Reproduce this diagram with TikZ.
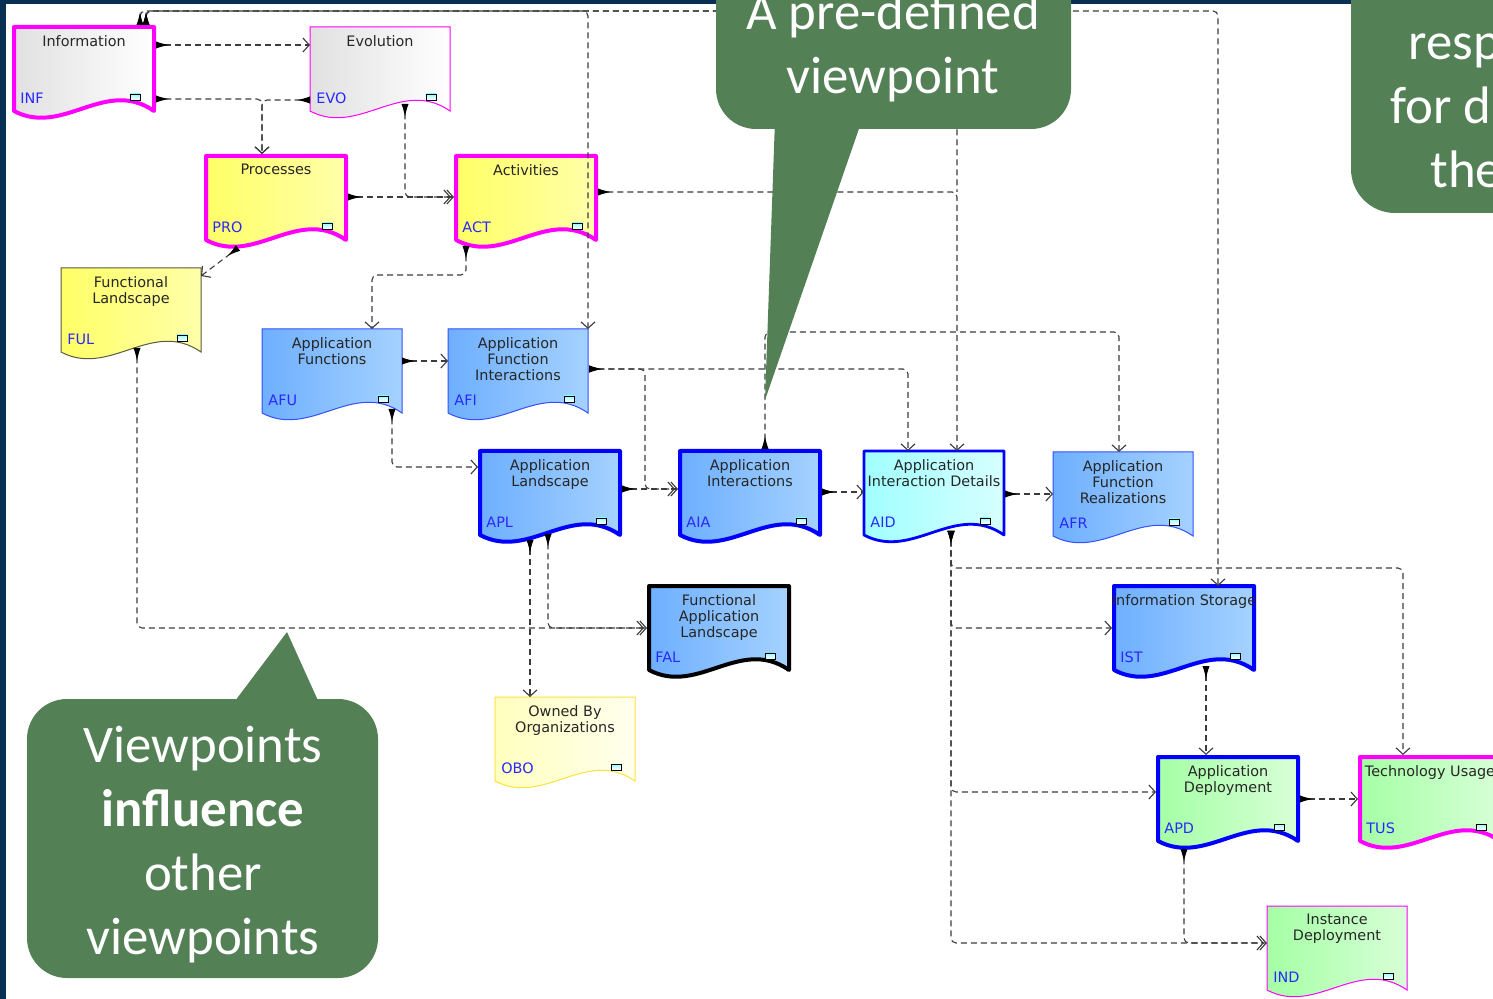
\documentclass[tikz,border=0pt]{standalone}
\usepackage{fontspec}
\setmainfont{DejaVu Sans}
\newfontfamily\calloutfont{Carlito}
\usetikzlibrary{positioning,calc,arrows.meta}

\definecolor{vpnavy}{RGB}{8,48,84}
\definecolor{vpgreen}{RGB}{84,128,86}
\definecolor{vpcodeblue}{RGB}{40,40,255}
\definecolor{vpmagenta}{RGB}{255,0,255}
\definecolor{vpblue}{RGB}{0,0,255}
\definecolor{vpthinblue}{RGB}{50,80,255}
\definecolor{vpolive}{RGB}{90,90,60}
\definecolor{vpgold}{RGB}{255,225,60}
\definecolor{vpline}{RGB}{60,60,60}

% one viewpoint: name, centre x, centre y, look, title, code
\newcommand{\vpdoc}[6]{%
  \node[vparea] (#1) at (#2,#3) {};
  \path[#4] (#1.north west) -- (#1.north east) -- (#1.south east)
    .. controls +(-49,-34) and +(49,26) .. (#1.south west) -- cycle;
  \node[vptitle] at ($(#1.north)+(0,8)$) {#5};
  \node[vpcode] at ($(#1.north west)+(6,71)$) {#6};
  \draw[vpicon] ($(#1.north east)+(-24,67)$) rectangle ($(#1.north east)+(-14,73)$);
}

\begin{document}
\begin{tikzpicture}[x=0.5pt,y=-0.5pt,
    vparea/.style={minimum width=70pt,minimum height=42pt,inner sep=0pt,outer sep=0pt},
    vptitle/.style={anchor=north,align=center,inner sep=0pt,text=black!85,font={\fontsize{7.2}{8}\selectfont}},
    vpcode/.style={anchor=west,inner sep=0pt,text=vpcodeblue,font={\fontsize{7.2}{8}\selectfont}},
    vpicon/.style={draw=black,line width=0.4pt,top color=cyan!40,bottom color=white},
    fillgray/.style={left color=black!12,right color=white},
    fillyellow/.style={left color={rgb,255:red,255;green,255;blue,102},right color={rgb,255:red,255;green,255;blue,170}},
    fillblue/.style={left color={rgb,255:red,110;green,175;blue,255},right color={rgb,255:red,165;green,210;blue,255}},
    fillcyan/.style={left color={rgb,255:red,160;green,255;blue,255},right color={rgb,255:red,215;green,255;blue,255}},
    fillgreen/.style={left color={rgb,255:red,165;green,255;blue,165},right color={rgb,255:red,215;green,255;blue,215}},
    fillpale/.style={left color={rgb,255:red,255;green,255;blue,190},right color={rgb,255:red,255;green,255;blue,238}},
    magthick/.style={draw=vpmagenta,line width=2pt,line join=round},
    magthin/.style={draw=vpmagenta,line width=0.5pt},
    bluethick/.style={draw=vpblue,line width=2pt,line join=round},
    bluemid/.style={draw=vpblue,line width=1.4pt,line join=round},
    bluethin/.style={draw=vpthinblue,line width=0.5pt},
    blackthick/.style={draw=black,line width=2pt,line join=round},
    olivethin/.style={draw=vpolive,line width=0.5pt},
    goldthin/.style={draw=vpgold,line width=0.5pt},
    vpdep/.style={draw=vpline,line width=0.55pt,dash pattern=on 3pt off 2pt,rounded corners=2.5pt,
      arrows={Latex[reversed,length=6.5pt,width=3.6pt,black]-Straight Barb[length=3.2pt,width=7pt,line width=0.55pt]}},
    vpjoin/.style={vpdep,arrows={Latex[reversed,length=6.5pt,width=3.6pt,black]-}},
    callout/.style={fill=vpgreen},
    callouttext/.style={align=center,text=white,inner sep=0pt,font={\calloutfont\fontsize{26.4}{32}\selectfont}}]

  \useasboundingbox (0,0) rectangle (1493,999);
  \clip (0,0) rectangle (1493,999);
  \fill[white] (0,0) rectangle (1493,999);
  \fill[vpnavy] (0,0) rectangle (6,999);
  \fill[vpnavy] (0,0) rectangle (1493,4);

  % viewpoints
  \vpdoc{inf}{84}{69}{fillgray,magthick}{Information}{INF}
  \vpdoc{evo}{380}{69}{fillgray,magthin}{Evolution}{EVO}
  \vpdoc{pro}{276}{198}{fillyellow,magthick}{Processes}{PRO}
  \vpdoc{act}{526}{198}{fillyellow,magthick}{Activities}{ACT}
  \vpdoc{ful}{131}{310}{fillyellow,olivethin}{Functional\\Landscape}{FUL}
  \vpdoc{afu}{332}{371}{fillblue,bluethin}{Application\\Functions}{AFU}
  \vpdoc{afi}{518}{371}{fillblue,bluethin}{Application\\Function\\Interactions}{AFI}
  \vpdoc{apl}{550}{493}{fillblue,bluethick}{Application\\Landscape}{APL}
  \vpdoc{aia}{750}{493}{fillblue,bluethick}{Application\\Interactions}{AIA}
  \vpdoc{aid}{934}{493}{fillcyan,bluemid}{Application\\Interaction Details}{AID}
  \vpdoc{afr}{1123}{494}{fillblue,bluethin}{Application\\Function\\Realizations}{AFR}
  \vpdoc{fal}{719}{628}{fillblue,blackthick}{Functional\\Application\\Landscape}{FAL}
  \vpdoc{obo}{565}{739}{fillpale,goldthin}{Owned By\\Organizations}{OBO}
  \vpdoc{ist}{1184}{628}{fillblue,bluethick}{Information Storage}{IST}
  \vpdoc{apd}{1228}{799}{fillgreen,bluethick}{Application\\Deployment}{APD}
  \vpdoc{tus}{1430}{799}{fillgreen,magthick}{Technology Usage}{TUS}
  \vpdoc{ind}{1337}{948}{fillgreen,magthin}{Instance\\Deployment}{IND}

  \coordinate (toplane) at (0,11);
  \coordinate (aidtop) at ($(aid.north west)+(93,0)$);
  \coordinate (isttop) at ($(ist.north west)+(104,0)$);
  \coordinate (aidout) at ($(aid.south west)+(87,-4)$);
  \coordinate (actout) at ($(act.north east)+(2,36)$);
  \coordinate (aidjoin) at (aidtop |- actout);

  % dependencies
  \draw[vpdep] ($(inf.north west)+(126,-2)$) |- (toplane -| afi.north east) -- (afi.north east);
  \draw[vpjoin] ($(inf.north west)+(132,-2)$) |- (toplane -| aidtop) -- (aidjoin);
  \draw[vpdep] ($(inf.north west)+(132,-2)$) |- (toplane -| isttop) -- (isttop);
  \draw[vpdep] ($(inf.north east)+(2,18)$) -- ($(evo.north west)+(0,18)$);
  \draw[vpdep] ($(inf.north east)+(2,72)$) -| ($(pro.north west)+(56,-2)$);
  \draw[vpdep] ($(evo.north west)+(0,73)$) -| ($(pro.north west)+(56,-2)$);
  \draw[vpdep] ($(pro.north east)+(2,41)$) -- ($(act.north west)+(-2,41)$);
  \draw[vpdep,shorten >=1.5pt] ($(evo.south west)+(95,-7)$) |- ($(act.north west)+(-2,41)$);
  \draw[vpdep] ($(pro.south west)+(32,8)$) -- ($(ful.north east)+(0,8)$);
  \draw[vpdep] ($(act.south west)+(10,6)$) |- ($(afu.north west)+(110,-54)$) -- ($(afu.north west)+(110,0)$);
  \draw[vpdep] (actout) -| (aidtop);
  \draw[vpdep] ($(afu.north east)+(0,32)$) -- ($(afi.north west)+(0,32)$);
  \draw[vpdep] ($(afu.south east)+(-10,-4)$) |- ($(apl.north west)+(-2,16)$);
  \draw[vpdep,shorten >=1.5pt] ($(afi.north east)+(1,40)$) -| ($(aia.north west)+(-35,38)$) -- ($(aia.north west)+(-2,38)$);
  \draw[vpdep] ($(afi.north east)+(1,40)$) -| ($(aid.north west)+(44,0)$);
  \draw[vpdep] ($(apl.north east)+(2,38)$) -- ($(aia.north west)+(-2,38)$);
  \draw[vpdep] ($(aia.north west)+(85,-2)$) |- ($(afr.north west)+(66,-120)$) -- ($(afr.north west)+(66,0)$);
  \draw[vpdep] ($(aia.north east)+(2,41)$) -- ($(aid.north west)+(0,41)$);
  \draw[vpdep] ($(aid.north east)+(1,43)$) -- ($(afr.north west)+(0,42)$);
  \draw[vpdep] (aidout) |- ($(tus.north west)+(43,-189)$) -- ($(tus.north west)+(43,-2)$);
  \draw[vpdep] (aidout) |- ($(ist.north west)+(-2,42)$);
  \draw[vpdep] (aidout) |- ($(apd.north west)+(-2,35)$);
  \draw[vpdep] (aidout) |- ($(ind.north west)+(0,37)$);
  \draw[vpdep] ($(ful.south west)+(76,-4)$) |- ($(fal.north west)+(-2,42)$);
  \draw[vpdep,shorten >=1.5pt] ($(apl.south west)+(68,-1)$) |- ($(fal.north west)+(-2,42)$);
  \draw[vpdep] ($(apl.south west)+(50,5)$) -- ($(obo.north west)+(35,0)$);
  \draw[vpdep] ($(ist.south west)+(92,-4)$) -- ($(apd.north west)+(48,-2)$);
  \draw[vpdep] ($(apd.north east)+(2,42)$) -- ($(tus.north west)+(-2,42)$);
  \draw[vpdep,shorten >=1.5pt] ($(apd.south west)+(26,8)$) |- ($(ind.north west)+(0,37)$);

  % callouts
  \fill[callout,rounded corners=20pt] (716,-80) rectangle (1071,129);
  \fill[callout] (775,120) -- (765,400) -- (862,120) -- cycle;
  \node[callouttext] (predef) at (893,47) {A pre-defined\\viewpoint};

  \fill[callout,rounded corners=20pt] (27,699) rectangle (378,978);
  \fill[callout] (232,705) -- (287,632) -- (320,705) -- cycle;
  \node[callouttext] (influence) at (203,845) {Viewpoints\\\textbf{influence}\\other\\viewpoints};

  \fill[callout,rounded corners=22pt] (1351,-80) rectangle (1600,213);
  \foreach \txt/\xx/\yy [count=\i] in {resp/1408/60,for d/1390/124,the/1430/188}
    \node[callouttext,anchor=base west] (resp\i) at (\xx,\yy) {\txt};
\end{tikzpicture}
\end{document}
